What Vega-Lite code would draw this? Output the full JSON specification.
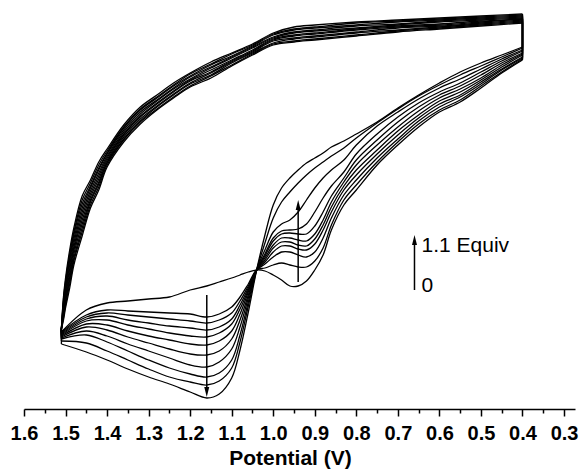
{
"$schema": "https://vega.github.io/schema/vega-lite/v6.json",
"width": 551, "height": 409,
"autosize": "none",
"padding": {"left": 24, "top": 0, "right": 5, "bottom": 66},
"background": "white",
"config": {"view": {"stroke": null}},
"datasets": {
"cv": [
{"c":0,"n":0,"v":0.4,"i":-6},{"c":0,"n":1,"v":0.45,"i":-7.3},{"c":0,"n":2,"v":0.5,"i":-8.8},{"c":0,"n":3,"v":0.55,"i":-10.2},{"c":0,"n":4,"v":0.6,"i":-11.2},{"c":0,"n":5,"v":0.65,"i":-12.7},{"c":0,"n":6,"v":0.7,"i":-14.5},{"c":0,"n":7,"v":0.75,"i":-16.5},{"c":0,"n":8,"v":0.8,"i":-19},{"c":0,"n":9,"v":0.83,"i":-20.5},{"c":0,"n":10,"v":0.86,"i":-23},{"c":0,"n":11,"v":0.88,"i":-25.5},{"c":0,"n":12,"v":0.9,"i":-27},{"c":0,"n":13,"v":0.92,"i":-28.1},{"c":0,"n":14,"v":0.94,"i":-28.6},{"c":0,"n":15,"v":0.96,"i":-28.6},{"c":0,"n":16,"v":0.98,"i":-28},{"c":0,"n":17,"v":1,"i":-27.5},{"c":0,"n":18,"v":1.02,"i":-27.1},{"c":0,"n":19,"v":1.04,"i":-27},{"c":0,"n":20,"v":1.06,"i":-27.2},{"c":0,"n":21,"v":1.08,"i":-27.5},{"c":0,"n":22,"v":1.1,"i":-27.8},{"c":0,"n":23,"v":1.13,"i":-28.2},{"c":0,"n":24,"v":1.16,"i":-28.6},{"c":0,"n":25,"v":1.2,"i":-29},{"c":0,"n":26,"v":1.25,"i":-29.7},{"c":0,"n":27,"v":1.3,"i":-29.9},{"c":0,"n":28,"v":1.35,"i":-30.1},{"c":0,"n":29,"v":1.4,"i":-30.3},{"c":0,"n":30,"v":1.45,"i":-31},{"c":0,"n":31,"v":1.51,"i":-33.2},
{"c":0,"n":32,"v":1.51,"i":-32.9},{"c":0,"n":33,"v":1.505,"i":-31.8},{"c":0,"n":34,"v":1.5,"i":-30.5},{"c":0,"n":35,"v":1.49,"i":-28.4},{"c":0,"n":36,"v":1.48,"i":-26.1},{"c":0,"n":37,"v":1.46,"i":-23.2},{"c":0,"n":38,"v":1.44,"i":-20.5},{"c":0,"n":39,"v":1.42,"i":-18.7},{"c":0,"n":40,"v":1.4,"i":-16.5},{"c":0,"n":41,"v":1.36,"i":-14},{"c":0,"n":42,"v":1.32,"i":-12.2},{"c":0,"n":43,"v":1.28,"i":-10.9},{"c":0,"n":44,"v":1.24,"i":-9.7},{"c":0,"n":45,"v":1.2,"i":-8.6},{"c":0,"n":46,"v":1.15,"i":-7.6},{"c":0,"n":47,"v":1.1,"i":-6.5},{"c":0,"n":48,"v":1.05,"i":-5.4},{"c":0,"n":49,"v":1,"i":-4.4},{"c":0,"n":50,"v":0.95,"i":-4.1},{"c":0,"n":51,"v":0.9,"i":-3.9},{"c":0,"n":52,"v":0.8,"i":-3.5},{"c":0,"n":53,"v":0.7,"i":-3.1},{"c":0,"n":54,"v":0.6,"i":-2.8},{"c":0,"n":55,"v":0.5,"i":-2.5},{"c":0,"n":56,"v":0.4,"i":-2.2},{"c":0,"n":57,"v":0.4,"i":-6},

{"c":1,"n":0,"v":0.4,"i":-5.9},{"c":1,"n":1,"v":0.45,"i":-7.2},{"c":1,"n":2,"v":0.5,"i":-8.6},{"c":1,"n":3,"v":0.55,"i":-10},{"c":1,"n":4,"v":0.6,"i":-11},{"c":1,"n":5,"v":0.65,"i":-12.4},{"c":1,"n":6,"v":0.7,"i":-14.2},{"c":1,"n":7,"v":0.75,"i":-16.2},{"c":1,"n":8,"v":0.8,"i":-18.5},{"c":1,"n":9,"v":0.83,"i":-20},{"c":1,"n":10,"v":0.86,"i":-22.5},{"c":1,"n":11,"v":0.88,"i":-24.8},{"c":1,"n":12,"v":0.9,"i":-26.1},{"c":1,"n":13,"v":0.92,"i":-26.7},{"c":1,"n":14,"v":0.94,"i":-26.7},{"c":1,"n":15,"v":0.96,"i":-26.5},{"c":1,"n":16,"v":0.98,"i":-26.3},{"c":1,"n":17,"v":1,"i":-26.5},{"c":1,"n":18,"v":1.02,"i":-26.8},{"c":1,"n":19,"v":1.04,"i":-27},{"c":1,"n":20,"v":1.06,"i":-28.4},{"c":1,"n":21,"v":1.08,"i":-29.7},{"c":1,"n":22,"v":1.1,"i":-30.7},{"c":1,"n":23,"v":1.13,"i":-31.4},{"c":1,"n":24,"v":1.16,"i":-31.7},{"c":1,"n":25,"v":1.2,"i":-31.4},{"c":1,"n":26,"v":1.25,"i":-31.3},{"c":1,"n":27,"v":1.3,"i":-31.2},{"c":1,"n":28,"v":1.35,"i":-31.1},{"c":1,"n":29,"v":1.4,"i":-31},{"c":1,"n":30,"v":1.45,"i":-31.5},{"c":1,"n":31,"v":1.51,"i":-33.2},
{"c":1,"n":32,"v":1.51,"i":-32.9},{"c":1,"n":33,"v":1.505,"i":-30.2},{"c":1,"n":34,"v":1.5,"i":-28.4},{"c":1,"n":35,"v":1.49,"i":-25.8},{"c":1,"n":36,"v":1.48,"i":-23.5},{"c":1,"n":37,"v":1.46,"i":-20.4},{"c":1,"n":38,"v":1.44,"i":-18.6},{"c":1,"n":39,"v":1.42,"i":-16.8},{"c":1,"n":40,"v":1.4,"i":-15.3},{"c":1,"n":41,"v":1.36,"i":-12.8},{"c":1,"n":42,"v":1.32,"i":-11},{"c":1,"n":43,"v":1.28,"i":-9.8},{"c":1,"n":44,"v":1.24,"i":-8.6},{"c":1,"n":45,"v":1.2,"i":-7.6},{"c":1,"n":46,"v":1.15,"i":-6.5},{"c":1,"n":47,"v":1.1,"i":-5.6},{"c":1,"n":48,"v":1.05,"i":-4.6},{"c":1,"n":49,"v":1,"i":-3.5},{"c":1,"n":50,"v":0.95,"i":-3},{"c":1,"n":51,"v":0.9,"i":-2.8},{"c":1,"n":52,"v":0.8,"i":-2.5},{"c":1,"n":53,"v":0.7,"i":-2.2},{"c":1,"n":54,"v":0.6,"i":-2},{"c":1,"n":55,"v":0.5,"i":-1.8},{"c":1,"n":56,"v":0.4,"i":-1.6},{"c":1,"n":57,"v":0.4,"i":-5.9},

{"c":2,"n":0,"v":0.4,"i":-5.8},{"c":2,"n":1,"v":0.45,"i":-7},{"c":2,"n":2,"v":0.5,"i":-8.4},{"c":2,"n":3,"v":0.55,"i":-9.7},{"c":2,"n":4,"v":0.6,"i":-10.7},{"c":2,"n":5,"v":0.65,"i":-12.1},{"c":2,"n":6,"v":0.7,"i":-13.9},{"c":2,"n":7,"v":0.75,"i":-15.8},{"c":2,"n":8,"v":0.8,"i":-18},{"c":2,"n":9,"v":0.83,"i":-19.5},{"c":2,"n":10,"v":0.86,"i":-21.8},{"c":2,"n":11,"v":0.88,"i":-23.8},{"c":2,"n":12,"v":0.9,"i":-25.2},{"c":2,"n":13,"v":0.92,"i":-25.7},{"c":2,"n":14,"v":0.94,"i":-25.5},{"c":2,"n":15,"v":0.96,"i":-25.2},{"c":2,"n":16,"v":0.98,"i":-25.2},{"c":2,"n":17,"v":1,"i":-25.7},{"c":2,"n":18,"v":1.02,"i":-26.4},{"c":2,"n":19,"v":1.04,"i":-27},{"c":2,"n":20,"v":1.06,"i":-28.6},{"c":2,"n":21,"v":1.08,"i":-30.1},{"c":2,"n":22,"v":1.1,"i":-31.3},{"c":2,"n":23,"v":1.13,"i":-32},{"c":2,"n":24,"v":1.16,"i":-32.3},{"c":2,"n":25,"v":1.2,"i":-32.1},{"c":2,"n":26,"v":1.25,"i":-31.9},{"c":2,"n":27,"v":1.3,"i":-31.7},{"c":2,"n":28,"v":1.35,"i":-31.5},{"c":2,"n":29,"v":1.4,"i":-31.3},{"c":2,"n":30,"v":1.45,"i":-31.7},{"c":2,"n":31,"v":1.51,"i":-33.3},
{"c":2,"n":32,"v":1.51,"i":-32.9},{"c":2,"n":33,"v":1.505,"i":-30.9},{"c":2,"n":34,"v":1.5,"i":-29.3},{"c":2,"n":35,"v":1.49,"i":-26.9},{"c":2,"n":36,"v":1.48,"i":-24.7},{"c":2,"n":37,"v":1.46,"i":-21.6},{"c":2,"n":38,"v":1.44,"i":-19.4},{"c":2,"n":39,"v":1.42,"i":-17.6},{"c":2,"n":40,"v":1.4,"i":-15.8},{"c":2,"n":41,"v":1.36,"i":-13.4},{"c":2,"n":42,"v":1.32,"i":-11.6},{"c":2,"n":43,"v":1.28,"i":-10.3},{"c":2,"n":44,"v":1.24,"i":-9.1},{"c":2,"n":45,"v":1.2,"i":-8},{"c":2,"n":46,"v":1.15,"i":-7},{"c":2,"n":47,"v":1.1,"i":-6},{"c":2,"n":48,"v":1.05,"i":-5},{"c":2,"n":49,"v":1,"i":-3.9},{"c":2,"n":50,"v":0.95,"i":-3.5},{"c":2,"n":51,"v":0.9,"i":-3.3},{"c":2,"n":52,"v":0.8,"i":-2.9},{"c":2,"n":53,"v":0.7,"i":-2.6},{"c":2,"n":54,"v":0.6,"i":-2.4},{"c":2,"n":55,"v":0.5,"i":-2.1},{"c":2,"n":56,"v":0.4,"i":-1.9},{"c":2,"n":57,"v":0.4,"i":-5.8},

{"c":3,"n":0,"v":0.4,"i":-5.7},{"c":3,"n":1,"v":0.45,"i":-6.9},{"c":3,"n":2,"v":0.5,"i":-8.2},{"c":3,"n":3,"v":0.55,"i":-9.5},{"c":3,"n":4,"v":0.6,"i":-10.4},{"c":3,"n":5,"v":0.65,"i":-11.8},{"c":3,"n":6,"v":0.7,"i":-13.5},{"c":3,"n":7,"v":0.75,"i":-15.4},{"c":3,"n":8,"v":0.8,"i":-17.5},{"c":3,"n":9,"v":0.83,"i":-19},{"c":3,"n":10,"v":0.86,"i":-21.2},{"c":3,"n":11,"v":0.88,"i":-23},{"c":3,"n":12,"v":0.9,"i":-24.4},{"c":3,"n":13,"v":0.92,"i":-25},{"c":3,"n":14,"v":0.94,"i":-24.9},{"c":3,"n":15,"v":0.96,"i":-24.6},{"c":3,"n":16,"v":0.98,"i":-24.6},{"c":3,"n":17,"v":1,"i":-25.2},{"c":3,"n":18,"v":1.02,"i":-26.2},{"c":3,"n":19,"v":1.04,"i":-27},{"c":3,"n":20,"v":1.06,"i":-28.8},{"c":3,"n":21,"v":1.08,"i":-30.5},{"c":3,"n":22,"v":1.1,"i":-31.9},{"c":3,"n":23,"v":1.13,"i":-32.7},{"c":3,"n":24,"v":1.16,"i":-33},{"c":3,"n":25,"v":1.2,"i":-32.8},{"c":3,"n":26,"v":1.25,"i":-32.6},{"c":3,"n":27,"v":1.3,"i":-32.3},{"c":3,"n":28,"v":1.35,"i":-32},{"c":3,"n":29,"v":1.4,"i":-31.6},{"c":3,"n":30,"v":1.45,"i":-31.9},{"c":3,"n":31,"v":1.51,"i":-33.4},
{"c":3,"n":32,"v":1.51,"i":-32.9},{"c":3,"n":33,"v":1.505,"i":-29.9},{"c":3,"n":34,"v":1.5,"i":-28.1},{"c":3,"n":35,"v":1.49,"i":-25.4},{"c":3,"n":36,"v":1.48,"i":-23.2},{"c":3,"n":37,"v":1.46,"i":-20},{"c":3,"n":38,"v":1.44,"i":-18.3},{"c":3,"n":39,"v":1.42,"i":-16.5},{"c":3,"n":40,"v":1.4,"i":-15.1},{"c":3,"n":41,"v":1.36,"i":-12.7},{"c":3,"n":42,"v":1.32,"i":-10.9},{"c":3,"n":43,"v":1.28,"i":-9.7},{"c":3,"n":44,"v":1.24,"i":-8.5},{"c":3,"n":45,"v":1.2,"i":-7.4},{"c":3,"n":46,"v":1.15,"i":-6.4},{"c":3,"n":47,"v":1.1,"i":-5.4},{"c":3,"n":48,"v":1.05,"i":-4.5},{"c":3,"n":49,"v":1,"i":-3.4},{"c":3,"n":50,"v":0.95,"i":-2.9},{"c":3,"n":51,"v":0.9,"i":-2.7},{"c":3,"n":52,"v":0.8,"i":-2.3},{"c":3,"n":53,"v":0.7,"i":-2.1},{"c":3,"n":54,"v":0.6,"i":-1.9},{"c":3,"n":55,"v":0.5,"i":-1.7},{"c":3,"n":56,"v":0.4,"i":-1.5},{"c":3,"n":57,"v":0.4,"i":-5.7},

{"c":4,"n":0,"v":0.4,"i":-5.5},{"c":4,"n":1,"v":0.45,"i":-6.7},{"c":4,"n":2,"v":0.5,"i":-8},{"c":4,"n":3,"v":0.55,"i":-9.2},{"c":4,"n":4,"v":0.6,"i":-10.1},{"c":4,"n":5,"v":0.65,"i":-11.5},{"c":4,"n":6,"v":0.7,"i":-13.1},{"c":4,"n":7,"v":0.75,"i":-15},{"c":4,"n":8,"v":0.8,"i":-17},{"c":4,"n":9,"v":0.83,"i":-18.6},{"c":4,"n":10,"v":0.86,"i":-20.7},{"c":4,"n":11,"v":0.88,"i":-22.5},{"c":4,"n":12,"v":0.9,"i":-23.9},{"c":4,"n":13,"v":0.92,"i":-24.6},{"c":4,"n":14,"v":0.94,"i":-24.5},{"c":4,"n":15,"v":0.96,"i":-24.2},{"c":4,"n":16,"v":0.98,"i":-24.2},{"c":4,"n":17,"v":1,"i":-24.8},{"c":4,"n":18,"v":1.02,"i":-26},{"c":4,"n":19,"v":1.04,"i":-27},{"c":4,"n":20,"v":1.06,"i":-29},{"c":4,"n":21,"v":1.08,"i":-30.9},{"c":4,"n":22,"v":1.1,"i":-32.4},{"c":4,"n":23,"v":1.13,"i":-33.3},{"c":4,"n":24,"v":1.16,"i":-33.7},{"c":4,"n":25,"v":1.2,"i":-33.6},{"c":4,"n":26,"v":1.25,"i":-33.3},{"c":4,"n":27,"v":1.3,"i":-32.9},{"c":4,"n":28,"v":1.35,"i":-32.5},{"c":4,"n":29,"v":1.4,"i":-32},{"c":4,"n":30,"v":1.45,"i":-32.1},{"c":4,"n":31,"v":1.51,"i":-33.5},
{"c":4,"n":32,"v":1.51,"i":-32.9},{"c":4,"n":33,"v":1.505,"i":-31.1},{"c":4,"n":34,"v":1.5,"i":-29.6},{"c":4,"n":35,"v":1.49,"i":-27.3},{"c":4,"n":36,"v":1.48,"i":-25},{"c":4,"n":37,"v":1.46,"i":-22},{"c":4,"n":38,"v":1.44,"i":-19.7},{"c":4,"n":39,"v":1.42,"i":-17.9},{"c":4,"n":40,"v":1.4,"i":-16},{"c":4,"n":41,"v":1.36,"i":-13.5},{"c":4,"n":42,"v":1.32,"i":-11.7},{"c":4,"n":43,"v":1.28,"i":-10.4},{"c":4,"n":44,"v":1.24,"i":-9.2},{"c":4,"n":45,"v":1.2,"i":-8.1},{"c":4,"n":46,"v":1.15,"i":-7.2},{"c":4,"n":47,"v":1.1,"i":-6.1},{"c":4,"n":48,"v":1.05,"i":-5.1},{"c":4,"n":49,"v":1,"i":-4},{"c":4,"n":50,"v":0.95,"i":-3.6},{"c":4,"n":51,"v":0.9,"i":-3.4},{"c":4,"n":52,"v":0.8,"i":-3},{"c":4,"n":53,"v":0.7,"i":-2.7},{"c":4,"n":54,"v":0.6,"i":-2.5},{"c":4,"n":55,"v":0.5,"i":-2.2},{"c":4,"n":56,"v":0.4,"i":-1.9},{"c":4,"n":57,"v":0.4,"i":-5.5},

{"c":5,"n":0,"v":0.4,"i":-5.4},{"c":5,"n":1,"v":0.45,"i":-6.5},{"c":5,"n":2,"v":0.5,"i":-7.8},{"c":5,"n":3,"v":0.55,"i":-8.9},{"c":5,"n":4,"v":0.6,"i":-9.8},{"c":5,"n":5,"v":0.65,"i":-11.1},{"c":5,"n":6,"v":0.7,"i":-12.7},{"c":5,"n":7,"v":0.75,"i":-14.5},{"c":5,"n":8,"v":0.8,"i":-16.5},{"c":5,"n":9,"v":0.83,"i":-18.2},{"c":5,"n":10,"v":0.86,"i":-20.2},{"c":5,"n":11,"v":0.88,"i":-22},{"c":5,"n":12,"v":0.9,"i":-23.4},{"c":5,"n":13,"v":0.92,"i":-24.1},{"c":5,"n":14,"v":0.94,"i":-24},{"c":5,"n":15,"v":0.96,"i":-23.8},{"c":5,"n":16,"v":0.98,"i":-23.8},{"c":5,"n":17,"v":1,"i":-24.5},{"c":5,"n":18,"v":1.02,"i":-25.8},{"c":5,"n":19,"v":1.04,"i":-27},{"c":5,"n":20,"v":1.06,"i":-29.2},{"c":5,"n":21,"v":1.08,"i":-31.4},{"c":5,"n":22,"v":1.1,"i":-33.1},{"c":5,"n":23,"v":1.13,"i":-34.1},{"c":5,"n":24,"v":1.16,"i":-34.5},{"c":5,"n":25,"v":1.2,"i":-34.4},{"c":5,"n":26,"v":1.25,"i":-34},{"c":5,"n":27,"v":1.3,"i":-33.6},{"c":5,"n":28,"v":1.35,"i":-33.1},{"c":5,"n":29,"v":1.4,"i":-32.5},{"c":5,"n":30,"v":1.45,"i":-32.4},{"c":5,"n":31,"v":1.51,"i":-33.6},
{"c":5,"n":32,"v":1.51,"i":-32.9},{"c":5,"n":33,"v":1.505,"i":-29.7},{"c":5,"n":34,"v":1.5,"i":-27.8},{"c":5,"n":35,"v":1.49,"i":-25},{"c":5,"n":36,"v":1.48,"i":-22.8},{"c":5,"n":37,"v":1.46,"i":-19.6},{"c":5,"n":38,"v":1.44,"i":-18},{"c":5,"n":39,"v":1.42,"i":-16.2},{"c":5,"n":40,"v":1.4,"i":-14.9},{"c":5,"n":41,"v":1.36,"i":-12.5},{"c":5,"n":42,"v":1.32,"i":-10.7},{"c":5,"n":43,"v":1.28,"i":-9.5},{"c":5,"n":44,"v":1.24,"i":-8.3},{"c":5,"n":45,"v":1.2,"i":-7.3},{"c":5,"n":46,"v":1.15,"i":-6.2},{"c":5,"n":47,"v":1.1,"i":-5.3},{"c":5,"n":48,"v":1.05,"i":-4.4},{"c":5,"n":49,"v":1,"i":-3.3},{"c":5,"n":50,"v":0.95,"i":-2.7},{"c":5,"n":51,"v":0.9,"i":-2.5},{"c":5,"n":52,"v":0.8,"i":-2.2},{"c":5,"n":53,"v":0.7,"i":-2},{"c":5,"n":54,"v":0.6,"i":-1.8},{"c":5,"n":55,"v":0.5,"i":-1.6},{"c":5,"n":56,"v":0.4,"i":-1.4},{"c":5,"n":57,"v":0.4,"i":-5.4},

{"c":6,"n":0,"v":0.4,"i":-5.3},{"c":6,"n":1,"v":0.45,"i":-6.3},{"c":6,"n":2,"v":0.5,"i":-7.5},{"c":6,"n":3,"v":0.55,"i":-8.6},{"c":6,"n":4,"v":0.6,"i":-9.5},{"c":6,"n":5,"v":0.65,"i":-10.7},{"c":6,"n":6,"v":0.7,"i":-12.2},{"c":6,"n":7,"v":0.75,"i":-14},{"c":6,"n":8,"v":0.8,"i":-16},{"c":6,"n":9,"v":0.83,"i":-17.8},{"c":6,"n":10,"v":0.86,"i":-19.6},{"c":6,"n":11,"v":0.88,"i":-21.2},{"c":6,"n":12,"v":0.9,"i":-22.6},{"c":6,"n":13,"v":0.92,"i":-23.4},{"c":6,"n":14,"v":0.94,"i":-23.4},{"c":6,"n":15,"v":0.96,"i":-23.3},{"c":6,"n":16,"v":0.98,"i":-23.4},{"c":6,"n":17,"v":1,"i":-24.1},{"c":6,"n":18,"v":1.02,"i":-25.6},{"c":6,"n":19,"v":1.04,"i":-27},{"c":6,"n":20,"v":1.06,"i":-29.5},{"c":6,"n":21,"v":1.08,"i":-32},{"c":6,"n":22,"v":1.1,"i":-33.9},{"c":6,"n":23,"v":1.13,"i":-35.1},{"c":6,"n":24,"v":1.16,"i":-35.5},{"c":6,"n":25,"v":1.2,"i":-35.4},{"c":6,"n":26,"v":1.25,"i":-34.9},{"c":6,"n":27,"v":1.3,"i":-34.3},{"c":6,"n":28,"v":1.35,"i":-33.7},{"c":6,"n":29,"v":1.4,"i":-33},{"c":6,"n":30,"v":1.45,"i":-32.7},{"c":6,"n":31,"v":1.51,"i":-33.7},
{"c":6,"n":32,"v":1.51,"i":-32.9},{"c":6,"n":33,"v":1.505,"i":-30.6},{"c":6,"n":34,"v":1.5,"i":-29},{"c":6,"n":35,"v":1.49,"i":-26.5},{"c":6,"n":36,"v":1.48,"i":-24.3},{"c":6,"n":37,"v":1.46,"i":-21.2},{"c":6,"n":38,"v":1.44,"i":-19.1},{"c":6,"n":39,"v":1.42,"i":-17.3},{"c":6,"n":40,"v":1.4,"i":-15.6},{"c":6,"n":41,"v":1.36,"i":-13.2},{"c":6,"n":42,"v":1.32,"i":-11.4},{"c":6,"n":43,"v":1.28,"i":-10.1},{"c":6,"n":44,"v":1.24,"i":-8.9},{"c":6,"n":45,"v":1.2,"i":-7.9},{"c":6,"n":46,"v":1.15,"i":-6.8},{"c":6,"n":47,"v":1.1,"i":-5.8},{"c":6,"n":48,"v":1.05,"i":-4.8},{"c":6,"n":49,"v":1,"i":-3.8},{"c":6,"n":50,"v":0.95,"i":-3.3},{"c":6,"n":51,"v":0.9,"i":-3.1},{"c":6,"n":52,"v":0.8,"i":-2.8},{"c":6,"n":53,"v":0.7,"i":-2.5},{"c":6,"n":54,"v":0.6,"i":-2.2},{"c":6,"n":55,"v":0.5,"i":-2},{"c":6,"n":56,"v":0.4,"i":-1.8},{"c":6,"n":57,"v":0.4,"i":-5.3},

{"c":7,"n":0,"v":0.4,"i":-5.1},{"c":7,"n":1,"v":0.45,"i":-6.1},{"c":7,"n":2,"v":0.5,"i":-7.2},{"c":7,"n":3,"v":0.55,"i":-8.3},{"c":7,"n":4,"v":0.6,"i":-9.2},{"c":7,"n":5,"v":0.65,"i":-10.3},{"c":7,"n":6,"v":0.7,"i":-11.7},{"c":7,"n":7,"v":0.75,"i":-13.4},{"c":7,"n":8,"v":0.8,"i":-15.4},{"c":7,"n":9,"v":0.83,"i":-17.2},{"c":7,"n":10,"v":0.86,"i":-18.6},{"c":7,"n":11,"v":0.88,"i":-19.8},{"c":7,"n":12,"v":0.9,"i":-21.2},{"c":7,"n":13,"v":0.92,"i":-22.4},{"c":7,"n":14,"v":0.94,"i":-22.9},{"c":7,"n":15,"v":0.96,"i":-23},{"c":7,"n":16,"v":0.98,"i":-23.1},{"c":7,"n":17,"v":1,"i":-23.8},{"c":7,"n":18,"v":1.02,"i":-25.4},{"c":7,"n":19,"v":1.04,"i":-27},{"c":7,"n":20,"v":1.06,"i":-29.8},{"c":7,"n":21,"v":1.08,"i":-32.7},{"c":7,"n":22,"v":1.1,"i":-34.9},{"c":7,"n":23,"v":1.13,"i":-36.2},{"c":7,"n":24,"v":1.16,"i":-36.7},{"c":7,"n":25,"v":1.2,"i":-36.5},{"c":7,"n":26,"v":1.25,"i":-35.8},{"c":7,"n":27,"v":1.3,"i":-35.1},{"c":7,"n":28,"v":1.35,"i":-34.4},{"c":7,"n":29,"v":1.4,"i":-33.6},{"c":7,"n":30,"v":1.45,"i":-33.1},{"c":7,"n":31,"v":1.51,"i":-33.8},
{"c":7,"n":32,"v":1.51,"i":-32.9},{"c":7,"n":33,"v":1.505,"i":-31.5},{"c":7,"n":34,"v":1.5,"i":-30.2},{"c":7,"n":35,"v":1.49,"i":-28},{"c":7,"n":36,"v":1.48,"i":-25.8},{"c":7,"n":37,"v":1.46,"i":-22.8},{"c":7,"n":38,"v":1.44,"i":-20.2},{"c":7,"n":39,"v":1.42,"i":-18.4},{"c":7,"n":40,"v":1.4,"i":-16.3},{"c":7,"n":41,"v":1.36,"i":-13.9},{"c":7,"n":42,"v":1.32,"i":-12.1},{"c":7,"n":43,"v":1.28,"i":-10.7},{"c":7,"n":44,"v":1.24,"i":-9.5},{"c":7,"n":45,"v":1.2,"i":-8.4},{"c":7,"n":46,"v":1.15,"i":-7.5},{"c":7,"n":47,"v":1.1,"i":-6.3},{"c":7,"n":48,"v":1.05,"i":-5.3},{"c":7,"n":49,"v":1,"i":-4.3},{"c":7,"n":50,"v":0.95,"i":-3.9},{"c":7,"n":51,"v":0.9,"i":-3.7},{"c":7,"n":52,"v":0.8,"i":-3.3},{"c":7,"n":53,"v":0.7,"i":-3},{"c":7,"n":54,"v":0.6,"i":-2.7},{"c":7,"n":55,"v":0.5,"i":-2.4},{"c":7,"n":56,"v":0.4,"i":-2.1},{"c":7,"n":57,"v":0.4,"i":-5.1},

{"c":8,"n":0,"v":0.4,"i":-5},{"c":8,"n":1,"v":0.45,"i":-5.9},{"c":8,"n":2,"v":0.5,"i":-6.9},{"c":8,"n":3,"v":0.55,"i":-7.9},{"c":8,"n":4,"v":0.6,"i":-8.8},{"c":8,"n":5,"v":0.65,"i":-9.9},{"c":8,"n":6,"v":0.7,"i":-11.2},{"c":8,"n":7,"v":0.75,"i":-12.6},{"c":8,"n":8,"v":0.8,"i":-14.5},{"c":8,"n":9,"v":0.83,"i":-16},{"c":8,"n":10,"v":0.86,"i":-17},{"c":8,"n":11,"v":0.88,"i":-17.8},{"c":8,"n":12,"v":0.9,"i":-18.8},{"c":8,"n":13,"v":0.92,"i":-20},{"c":8,"n":14,"v":0.94,"i":-21.2},{"c":8,"n":15,"v":0.96,"i":-22},{"c":8,"n":16,"v":0.98,"i":-22.4},{"c":8,"n":17,"v":1,"i":-23.2},{"c":8,"n":18,"v":1.02,"i":-25},{"c":8,"n":19,"v":1.04,"i":-27},{"c":8,"n":20,"v":1.06,"i":-30.2},{"c":8,"n":21,"v":1.08,"i":-33.5},{"c":8,"n":22,"v":1.1,"i":-36},{"c":8,"n":23,"v":1.13,"i":-37.3},{"c":8,"n":24,"v":1.16,"i":-37.7},{"c":8,"n":25,"v":1.2,"i":-37.4},{"c":8,"n":26,"v":1.25,"i":-36.8},{"c":8,"n":27,"v":1.3,"i":-36},{"c":8,"n":28,"v":1.35,"i":-35.1},{"c":8,"n":29,"v":1.4,"i":-34.2},{"c":8,"n":30,"v":1.45,"i":-33.5},{"c":8,"n":31,"v":1.51,"i":-33.9},
{"c":8,"n":32,"v":1.51,"i":-32.9},{"c":8,"n":33,"v":1.505,"i":-30.4},{"c":8,"n":34,"v":1.5,"i":-28.7},{"c":8,"n":35,"v":1.49,"i":-26.1},{"c":8,"n":36,"v":1.48,"i":-23.9},{"c":8,"n":37,"v":1.46,"i":-20.8},{"c":8,"n":38,"v":1.44,"i":-18.8},{"c":8,"n":39,"v":1.42,"i":-17},{"c":8,"n":40,"v":1.4,"i":-15.4},{"c":8,"n":41,"v":1.36,"i":-13},{"c":8,"n":42,"v":1.32,"i":-11.2},{"c":8,"n":43,"v":1.28,"i":-10},{"c":8,"n":44,"v":1.24,"i":-8.8},{"c":8,"n":45,"v":1.2,"i":-7.7},{"c":8,"n":46,"v":1.15,"i":-6.7},{"c":8,"n":47,"v":1.1,"i":-5.7},{"c":8,"n":48,"v":1.05,"i":-4.7},{"c":8,"n":49,"v":1,"i":-3.7},{"c":8,"n":50,"v":0.95,"i":-3.2},{"c":8,"n":51,"v":0.9,"i":-3},{"c":8,"n":52,"v":0.8,"i":-2.6},{"c":8,"n":53,"v":0.7,"i":-2.4},{"c":8,"n":54,"v":0.6,"i":-2.1},{"c":8,"n":55,"v":0.5,"i":-1.9},{"c":8,"n":56,"v":0.4,"i":-1.7},{"c":8,"n":57,"v":0.4,"i":-5},

{"c":9,"n":0,"v":0.4,"i":-4.8},{"c":9,"n":1,"v":0.45,"i":-5.7},{"c":9,"n":2,"v":0.5,"i":-6.6},{"c":9,"n":3,"v":0.55,"i":-7.5},{"c":9,"n":4,"v":0.6,"i":-8.5},{"c":9,"n":5,"v":0.65,"i":-9.6},{"c":9,"n":6,"v":0.7,"i":-10.9},{"c":9,"n":7,"v":0.75,"i":-12.3},{"c":9,"n":8,"v":0.8,"i":-13.8},{"c":9,"n":9,"v":0.83,"i":-14.8},{"c":9,"n":10,"v":0.86,"i":-15.6},{"c":9,"n":11,"v":0.88,"i":-16.2},{"c":9,"n":12,"v":0.9,"i":-16.8},{"c":9,"n":13,"v":0.92,"i":-17.5},{"c":9,"n":14,"v":0.94,"i":-18.3},{"c":9,"n":15,"v":0.96,"i":-19.2},{"c":9,"n":16,"v":0.98,"i":-20.2},{"c":9,"n":17,"v":1,"i":-21.8},{"c":9,"n":18,"v":1.02,"i":-24.3},{"c":9,"n":19,"v":1.04,"i":-27},{"c":9,"n":20,"v":1.06,"i":-30.6},{"c":9,"n":21,"v":1.08,"i":-34.2},{"c":9,"n":22,"v":1.1,"i":-36.8},{"c":9,"n":23,"v":1.13,"i":-38.1},{"c":9,"n":24,"v":1.16,"i":-38.5},{"c":9,"n":25,"v":1.2,"i":-38.2},{"c":9,"n":26,"v":1.25,"i":-37.7},{"c":9,"n":27,"v":1.3,"i":-36.9},{"c":9,"n":28,"v":1.35,"i":-36},{"c":9,"n":29,"v":1.4,"i":-35.1},{"c":9,"n":30,"v":1.45,"i":-34.3},{"c":9,"n":31,"v":1.51,"i":-34.1},
{"c":9,"n":32,"v":1.51,"i":-32.9},{"c":9,"n":33,"v":1.505,"i":-31.3},{"c":9,"n":34,"v":1.5,"i":-29.9},{"c":9,"n":35,"v":1.49,"i":-27.7},{"c":9,"n":36,"v":1.48,"i":-25.4},{"c":9,"n":37,"v":1.46,"i":-22.4},{"c":9,"n":38,"v":1.44,"i":-20},{"c":9,"n":39,"v":1.42,"i":-18.2},{"c":9,"n":40,"v":1.4,"i":-16.2},{"c":9,"n":41,"v":1.36,"i":-13.7},{"c":9,"n":42,"v":1.32,"i":-11.9},{"c":9,"n":43,"v":1.28,"i":-10.6},{"c":9,"n":44,"v":1.24,"i":-9.4},{"c":9,"n":45,"v":1.2,"i":-8.3},{"c":9,"n":46,"v":1.15,"i":-7.3},{"c":9,"n":47,"v":1.1,"i":-6.2},{"c":9,"n":48,"v":1.05,"i":-5.2},{"c":9,"n":49,"v":1,"i":-4.1},{"c":9,"n":50,"v":0.95,"i":-3.8},{"c":9,"n":51,"v":0.9,"i":-3.6},{"c":9,"n":52,"v":0.8,"i":-3.2},{"c":9,"n":53,"v":0.7,"i":-2.8},{"c":9,"n":54,"v":0.6,"i":-2.6},{"c":9,"n":55,"v":0.5,"i":-2.3},{"c":9,"n":56,"v":0.4,"i":-2},{"c":9,"n":57,"v":0.4,"i":-4.8},

{"c":10,"n":0,"v":0.4,"i":-4.7},{"c":10,"n":1,"v":0.45,"i":-5.5},{"c":10,"n":2,"v":0.5,"i":-6.3},{"c":10,"n":3,"v":0.55,"i":-7.2},{"c":10,"n":4,"v":0.6,"i":-8.3},{"c":10,"n":5,"v":0.65,"i":-9.5},{"c":10,"n":6,"v":0.7,"i":-10.8},{"c":10,"n":7,"v":0.75,"i":-12.2},{"c":10,"n":8,"v":0.8,"i":-13.4},{"c":10,"n":9,"v":0.83,"i":-14.1},{"c":10,"n":10,"v":0.86,"i":-14.7},{"c":10,"n":11,"v":0.88,"i":-15.3},{"c":10,"n":12,"v":0.9,"i":-15.8},{"c":10,"n":13,"v":0.92,"i":-16.3},{"c":10,"n":14,"v":0.94,"i":-17},{"c":10,"n":15,"v":0.96,"i":-17.8},{"c":10,"n":16,"v":0.98,"i":-18.8},{"c":10,"n":17,"v":1,"i":-20.5},{"c":10,"n":18,"v":1.02,"i":-23.5},{"c":10,"n":19,"v":1.04,"i":-27},{"c":10,"n":20,"v":1.06,"i":-31.2},{"c":10,"n":21,"v":1.08,"i":-35},{"c":10,"n":22,"v":1.1,"i":-37.8},{"c":10,"n":23,"v":1.13,"i":-39.4},{"c":10,"n":24,"v":1.16,"i":-39.8},{"c":10,"n":25,"v":1.2,"i":-39.2},{"c":10,"n":26,"v":1.25,"i":-38.4},{"c":10,"n":27,"v":1.3,"i":-37.7},{"c":10,"n":28,"v":1.35,"i":-36.9},{"c":10,"n":29,"v":1.4,"i":-36},{"c":10,"n":30,"v":1.45,"i":-35.2},{"c":10,"n":31,"v":1.51,"i":-34.4},
{"c":10,"n":32,"v":1.51,"i":-32.9},{"c":10,"n":33,"v":1.505,"i":-32},{"c":10,"n":34,"v":1.5,"i":-30.8},{"c":10,"n":35,"v":1.49,"i":-28.8},{"c":10,"n":36,"v":1.48,"i":-26.5},{"c":10,"n":37,"v":1.46,"i":-23.6},{"c":10,"n":38,"v":1.44,"i":-20.8},{"c":10,"n":39,"v":1.42,"i":-19},{"c":10,"n":40,"v":1.4,"i":-16.7},{"c":10,"n":41,"v":1.36,"i":-14.2},{"c":10,"n":42,"v":1.32,"i":-12.4},{"c":10,"n":43,"v":1.28,"i":-11},{"c":10,"n":44,"v":1.24,"i":-9.8},{"c":10,"n":45,"v":1.2,"i":-8.7},{"c":10,"n":46,"v":1.15,"i":-7.8},{"c":10,"n":47,"v":1.1,"i":-6.6},{"c":10,"n":48,"v":1.05,"i":-5.5},{"c":10,"n":49,"v":1,"i":-4.5},{"c":10,"n":50,"v":0.95,"i":-4.2},{"c":10,"n":51,"v":0.9,"i":-4},{"c":10,"n":52,"v":0.8,"i":-3.6},{"c":10,"n":53,"v":0.7,"i":-3.2},{"c":10,"n":54,"v":0.6,"i":-2.9},{"c":10,"n":55,"v":0.5,"i":-2.6},{"c":10,"n":56,"v":0.4,"i":-2.3},{"c":10,"n":57,"v":0.4,"i":-4.7}
],
"arrows": [
{"v":1.16,"from":-29.5,"to":-39},
{"v":0.94,"from":-28.2,"to":-20.8},
{"v":0.66,"from":-29,"to":-24.2}
],
"heads": [
{"v":1.16,"i":-39.7,"dir":"down"},
{"v":0.94,"i":-20,"dir":"up"},
{"v":0.66,"i":-23.5,"dir":"up"}
],
"notes": [
{"v":0.643,"i":-25.2,"t":"1.1 Equiv"},
{"v":0.643,"i":-29.2,"t":"0"}
]
},
"encoding": {
"x": {"field": "v", "type": "quantitative",
"scale": {"domain": [0.2736, 1.6], "reverse": true, "nice": false, "zero": false},
"axis": {
"title": "Potential (V)",
"values": [1.6,1.55,1.5,1.45,1.4,1.35,1.3,1.25,1.2,1.15,1.1,1.05,1.0,0.95,0.9,0.85,0.8,0.75,0.7,0.65,0.6,0.55,0.5,0.45,0.4,0.35,0.3],
"labelExpr": "abs(datum.value*10 - round(datum.value*10)) < 0.001 ? format(datum.value, '.1f') : ''",
"tickSize": {"condition": {"test": "abs(datum.value*10 - round(datum.value*10)) < 0.001", "value": 7}, "value": 4},
"labelFont": "Liberation Sans", "labelFontWeight": "bold", "labelFontSize": 20, "labelColor": "black",
"labelPadding": 7, "labelFlush": false, "labelOverlap": false, "labelBound": false,
"titleFont": "Liberation Sans", "titleFontWeight": "bold", "titleFontSize": 21, "titleColor": "black", "titlePadding": 4, "titleX": 266,
"domainColor": "black", "domainWidth": 1.5, "tickColor": "black", "tickWidth": 1.5, "grid": false
}},
"y": {"field": "i", "type": "quantitative", "scale": {"domain": [-40.9, 0], "nice": false, "zero": false}, "axis": null}
},
"layer": [
{
"data": {"name": "cv"},
"transform": [{"filter": "datum.n <= 31"}],
"mark": {"type": "line", "color": "black", "strokeWidth": 1.3, "interpolate": "catmull-rom"},
"encoding": {"detail": {"field": "c", "type": "nominal"}, "order": {"field": "n", "type": "quantitative"}}
},
{
"data": {"name": "cv"},
"transform": [{"filter": "datum.n >= 32 && datum.n <= 56"}],
"mark": {"type": "line", "color": "black", "strokeWidth": 1.3, "interpolate": "catmull-rom"},
"encoding": {"detail": {"field": "c", "type": "nominal"}, "order": {"field": "n", "type": "quantitative"}}
},
{
"data": {"name": "cv"},
"transform": [{"filter": "datum.n == 31 || datum.n == 32"}],
"mark": {"type": "line", "color": "black", "strokeWidth": 1.3},
"encoding": {"detail": {"field": "c", "type": "nominal"}, "order": {"field": "n", "type": "quantitative"}}
},
{
"data": {"name": "cv"},
"transform": [{"filter": "datum.n >= 56"}],
"mark": {"type": "line", "color": "black", "strokeWidth": 1.3},
"encoding": {"detail": {"field": "c", "type": "nominal"}, "order": {"field": "n", "type": "quantitative"}}
},
{
"data": {"name": "arrows"},
"mark": {"type": "rule", "color": "black", "strokeWidth": 1.5},
"encoding": {
"y": {"field": "from", "type": "quantitative"},
"y2": {"field": "to"}
}
},
{
"data": {"name": "heads"},
"mark": {"type": "point", "filled": true, "opacity": 1, "color": "black", "strokeWidth": 0, "size": 400},
"encoding": {
"shape": {"field": "dir", "type": "nominal", "scale": {"domain": ["down", "up"], "range": ["M0,0L-0.25,-1L0.25,-1Z", "M0,0L-0.25,1L0.25,1Z"]}, "legend": null}
}
},
{
"data": {"name": "notes"},
"mark": {"type": "text", "align": "left", "baseline": "alphabetic", "font": "Liberation Sans", "fontSize": 21, "color": "black"},
"encoding": {
"text": {"field": "t", "type": "nominal"}
}
}
]
}
